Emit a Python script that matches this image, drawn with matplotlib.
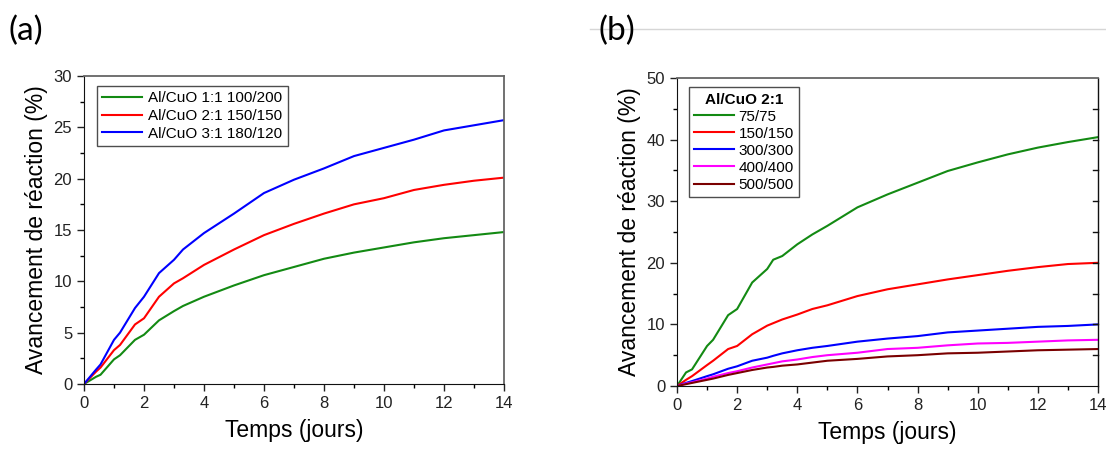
import numpy as np
import matplotlib.pyplot as plt
from matplotlib.lines import Line2D
from matplotlib.ticker import MultipleLocator

plt.rcParams['font.family'] = ['Liberation Sans', 'DejaVu Sans']

# panel (a): three Al/CuO ratios
days_a = [0, 0.4, 0.55, 1, 1.2, 1.7, 2, 2.5, 3, 3.3, 4, 5, 6, 7, 8, 9, 10, 11, 12, 13, 14]
a_11 = [0, 0.7, 0.9, 2.4, 2.8, 4.3, 4.8, 6.2, 7.1, 7.6, 8.5, 9.6, 10.6, 11.4, 12.2, 12.8, 13.3, 13.8, 14.2, 14.5, 14.8]
a_21 = [0, 1.2, 1.6, 3.3, 3.8, 5.8, 6.4, 8.5, 9.8, 10.3, 11.6, 13.1, 14.5, 15.6, 16.6, 17.5, 18.1, 18.9, 19.4, 19.8, 20.1]
a_31 = [0, 1.4, 1.9, 4.3, 5.0, 7.4, 8.5, 10.8, 12.1, 13.1, 14.7, 16.6, 18.6, 19.9, 21.0, 22.2, 23.0, 23.8, 24.7, 25.2, 25.7]
labels_a = ['Al/CuO 1:1 100/200', 'Al/CuO 2:1 150/150', 'Al/CuO 3:1 180/120']

# panel (b): Al/CuO 2:1, several thicknesses
days_b = [0, 0.3, 0.5, 1, 1.2, 1.7, 2, 2.5, 3, 3.2, 3.5, 4, 4.5, 5, 6, 7, 8, 9, 10, 11, 12, 13, 14]
b_75 = [0, 2.2, 2.7, 6.5, 7.5, 11.5, 12.5, 16.8, 19.0, 20.5, 21.1, 23.0, 24.6, 26.0, 29.0, 31.1, 33.0, 34.9, 36.3, 37.6, 38.7, 39.6, 40.4]
b_150 = [0, 1.0, 1.6, 3.4, 4.1, 6.0, 6.5, 8.4, 9.8, 10.2, 10.8, 11.6, 12.5, 13.1, 14.6, 15.7, 16.5, 17.3, 18.0, 18.7, 19.3, 19.8, 20.0]
b_300 = [0, 0.5, 0.8, 1.6, 1.9, 2.8, 3.2, 4.1, 4.6, 4.9, 5.3, 5.8, 6.2, 6.5, 7.2, 7.7, 8.1, 8.7, 9.0, 9.3, 9.6, 9.75, 10.0]
b_400 = [0, 0.4, 0.6, 1.2, 1.5, 2.1, 2.4, 3.0, 3.5, 3.7, 4.0, 4.3, 4.7, 5.0, 5.4, 6.0, 6.2, 6.6, 6.9, 7.0, 7.2, 7.4, 7.5]
b_500 = [0, 0.3, 0.5, 1.0, 1.2, 1.8, 2.1, 2.6, 3.0, 3.1, 3.3, 3.5, 3.8, 4.1, 4.4, 4.8, 5.0, 5.3, 5.4, 5.6, 5.8, 5.9, 6.0]
labels_b = ['75/75', '150/150', '300/300', '400/400', '500/500']

GREEN, RED, BLUE, MAG, BROWN = '#138a13', '#ff0000', '#0000ff', '#ff00ff', '#7a0000'


def style_axes(ax, ymax, ymajor):
    ax.set_xlim(0, 14)
    ax.set_ylim(0, ymax)
    ax.xaxis.set_major_locator(MultipleLocator(2))
    ax.xaxis.set_minor_locator(MultipleLocator(1))
    ax.yaxis.set_major_locator(MultipleLocator(ymajor))
    ax.yaxis.set_minor_locator(MultipleLocator(ymajor / 2))
    ax.tick_params(which='major', direction='out', length=5, width=1, labelsize=12, colors='#222222')
    ax.tick_params(which='minor', direction='out', length=3, width=1)
    ax.set_xlabel('Temps (jours)', fontsize=16.5, labelpad=6)
    ax.set_ylabel('Avancement de réaction (%)', fontsize=16.5, labelpad=4)
    for s in ['left', 'bottom']:
        ax.spines[s].set_color('#111111')
    for s in ['top', 'right']:
        ax.spines[s].set_color('#666666')
        ax.spines[s].set_linewidth(1.3)


fig = plt.figure(figsize=(11.06, 4.51), dpi=100)

ax1 = fig.add_axes([84 / 1106, 1 - 384 / 451, 420 / 1106, 308 / 451])
ax1.plot(days_a, a_11, color=GREEN, lw=1.5, label=labels_a[0])
ax1.plot(days_a, a_21, color=RED, lw=1.5, label=labels_a[1])
ax1.plot(days_a, a_31, color=BLUE, lw=1.5, label=labels_a[2])
style_axes(ax1, 30, 5)
leg = ax1.legend(loc='upper left', bbox_to_anchor=(0.031, 0.968), borderaxespad=0, fontsize=11,
                 frameon=True, fancybox=False, edgecolor='#222222', handlelength=2.6,
                 labelspacing=0.25, borderpad=0.35, handletextpad=0.4)
leg.get_frame().set_linewidth(1.0)

ax2 = fig.add_axes([677 / 1106, 1 - 386 / 451, 421 / 1106, 308 / 451])
for y, c, lab in zip([b_75, b_150, b_300, b_400, b_500], [GREEN, RED, BLUE, MAG, BROWN], labels_b):
    ax2.plot(days_b, y, color=c, lw=1.5, label=lab)
style_axes(ax2, 50, 10)
ax2.spines['right'].set_color('#111111')
ax2.spines['right'].set_linewidth(1.0)
# inward ticks on right spine
for yv in np.arange(5, 50, 5):
    ax2.plot([13.85, 14], [yv, yv], color='#111111', lw=1.0, clip_on=False)
leg2 = ax2.legend(loc='upper left', bbox_to_anchor=(0.028, 0.97), borderaxespad=0, fontsize=11,
                  frameon=True, fancybox=False, edgecolor='#222222', handlelength=2.6,
                  labelspacing=0.2, borderpad=0.35, handletextpad=0.3, title='Al/CuO 2:1',
                  title_fontproperties={'weight': 'bold', 'size': 11})
leg2.get_frame().set_linewidth(1.0)

fig.text(8 / 1106, 1 - 31 / 451, '(a)', fontsize=24, family=['Lato', 'DejaVu Sans'], va='center', ha='left')
fig.text(598 / 1106, 1 - 31 / 451, '(b)', fontsize=24, family=['Lato', 'DejaVu Sans'], va='center', ha='left')
fig.add_artist(Line2D([590 / 1106, 1], [1 - 29 / 451, 1 - 29 / 451], color='#d6d6d6', lw=1.0, zorder=0))

fig.savefig('out.png', dpi=100)
